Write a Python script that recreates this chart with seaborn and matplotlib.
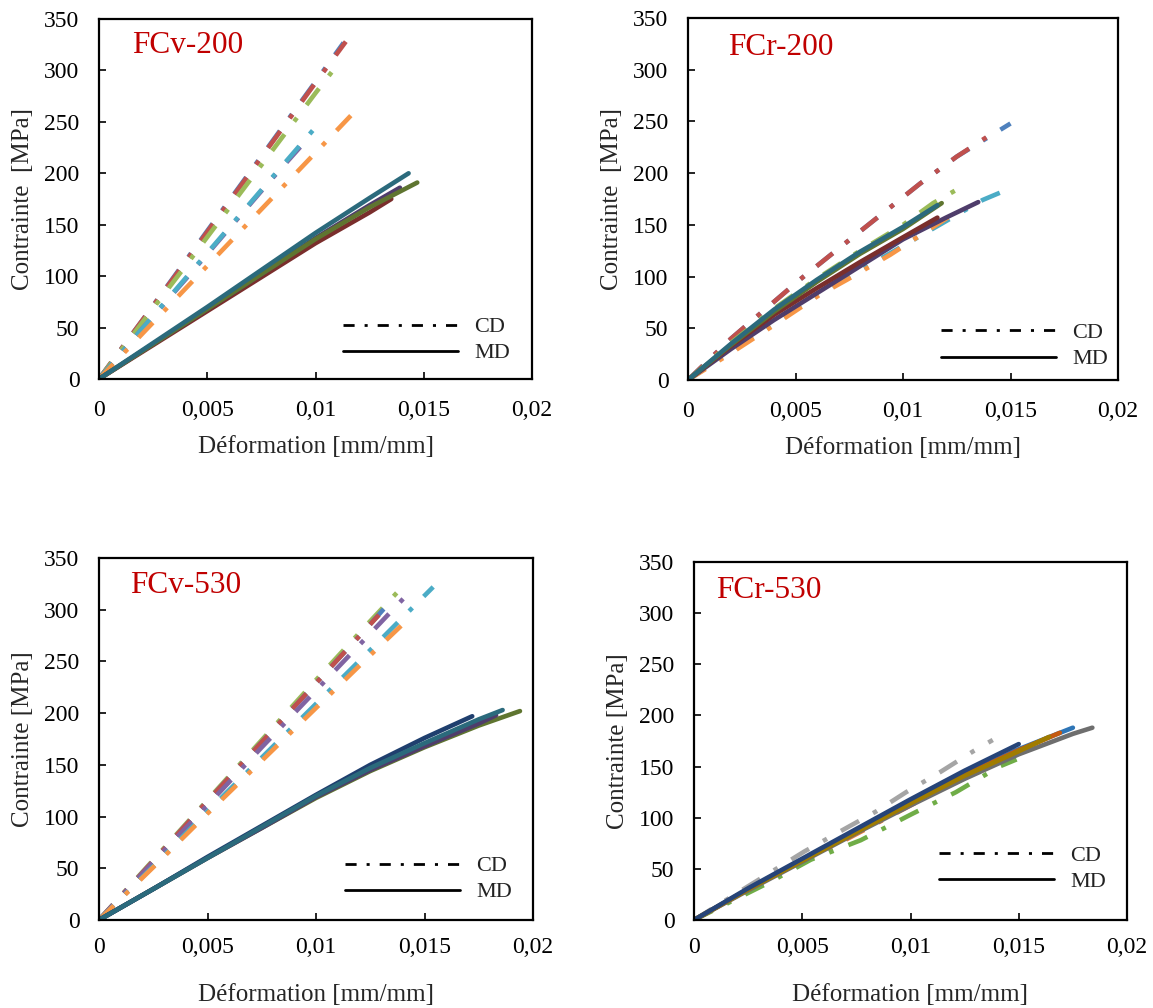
import numpy as np
import pandas as pd
import matplotlib
matplotlib.use("Agg")
import matplotlib.pyplot as plt
from matplotlib.lines import Line2D
from matplotlib.ticker import FixedLocator, FixedFormatter
import seaborn as sns

sns.set_style("ticks")
plt.rcParams['font.family'] = ['Liberation Serif', 'DejaVu Serif']

# ---------------- data ----------------
x_ticks = [0, 0.005, 0.01, 0.015, 0.02]
x_tick_labels = ["0", "0,005", "0,01", "0,015", "0,02"]
y_ticks = [0, 50, 100, 150, 200, 250, 300, 350]
panel_titles = ["FCv-200", "FCr-200", "FCv-530", "FCr-530"]
y_labels = ["Contrainte  [MPa]", "Contrainte  [MPa]", "Contrainte [MPa]", "Contrainte [MPa]"]
x_label = "Déformation [mm/mm]"
legend_labels = ["CD", "MD"]

# FCv-200 : (name, direction, strain, stress)
fcv200 = [
    ("cd1", "CD", [0, 0.002, 0.004, 0.006, 0.008, 0.010, 0.0113], [0, 57, 115, 173, 231, 289, 327]),
    ("cd2", "CD", [0, 0.002, 0.004, 0.006, 0.008, 0.010, 0.0114], [0, 57, 114, 172, 230, 288, 328]),
    ("cd3", "CD", [0, 0.002, 0.004, 0.006, 0.008, 0.010, 0.0111], [0, 55, 110, 166, 222, 278, 308]),
    ("cd4", "CD", [0, 0.002, 0.004, 0.006, 0.008, 0.0094], [0, 49, 97, 146, 195, 228]),
    ("cd5", "CD", [0, 0.002, 0.004, 0.006, 0.008, 0.0103], [0, 49, 98, 147, 196, 252]),
    ("cd6", "CD", [0, 0.002, 0.004, 0.006, 0.008, 0.010, 0.0119], [0, 44, 88, 132, 176, 220, 262]),
    ("md1", "MD", [0, 0.0025, 0.005, 0.0075, 0.010, 0.0125, 0.0135], [0, 33, 66, 99, 132, 162, 175]),
    ("md2", "MD", [0, 0.0025, 0.005, 0.0075, 0.010, 0.0125, 0.0139], [0, 34, 68, 102, 137, 169, 186]),
    ("md3", "MD", [0, 0.0025, 0.005, 0.0075, 0.010, 0.0125, 0.0147], [0, 34, 68, 102, 136, 167, 191]),
    ("md4", "MD", [0, 0.0025, 0.005, 0.0075, 0.010, 0.0125, 0.0143], [0, 35, 70, 106, 142, 176, 200]),
]
fcv200_colors = ["#4F81BD", "#C0504D", "#9BBB59", "#8064A2", "#4BACC6", "#F79646",
                 "#7A2E2C", "#4F3D6B", "#5F7530", "#2B6A7C"]

fcr200 = [
    ("cd1", "CD", [0, 0.002, 0.0052, 0.0079, 0.0108, 0.0125, 0.0150], [0, 40, 97, 142, 190, 216, 248]),
    ("cd2", "CD", [0, 0.002, 0.0052, 0.0079, 0.0108, 0.0125, 0.0142], [0, 40, 97, 142, 190, 216, 239]),
    ("cd3", "CD", [0, 0.002, 0.004, 0.006, 0.008, 0.010, 0.0114, 0.0130], [0, 36, 69, 98, 125, 150, 171, 190]),
    ("cd4", "CD", [0, 0.002, 0.0043, 0.0066, 0.0086, 0.0117, 0.0137, 0.0145], [0, 28, 59, 90, 113, 150, 174, 181]),
    ("cd5", "CD", [0, 0.002, 0.004, 0.0061, 0.0074, 0.0094, 0.0123], [0, 26, 53, 82, 97, 121, 160]),
    ("md1", "MD", [0, 0.002, 0.004, 0.006, 0.008, 0.010, 0.012, 0.0135], [0, 30, 58, 84, 110, 136, 157, 172]),
    ("md2", "MD", [0, 0.002, 0.004, 0.006, 0.008, 0.010, 0.0116], [0, 33, 63, 89, 114, 138, 157]),
    ("md3", "MD", [0, 0.002, 0.004, 0.006, 0.008, 0.010, 0.0118], [0, 34, 66, 95, 122, 146, 171]),
    ("md4", "MD", [0, 0.002, 0.004, 0.006, 0.008, 0.010, 0.0116], [0, 35, 68, 97, 124, 148, 169]),
]
fcr200_colors = ["#4F81BD", "#C0504D", "#9BBB59", "#4BACC6", "#F79646",
                 "#4F3D6B", "#7A2E2C", "#5F7530", "#2B6A7C"]

fcv530 = [
    ("cd1", "CD", [0, 0.0025, 0.005, 0.0075, 0.010, 0.0125, 0.0142], [0, 58, 116, 174, 232, 289, 327]),
    ("cd2", "CD", [0, 0.0025, 0.005, 0.0075, 0.010, 0.0125, 0.0136], [0, 57, 115, 172, 229, 286, 312]),
    ("cd3", "CD", [0, 0.0025, 0.005, 0.0075, 0.010, 0.0129], [0, 57, 115, 172, 229, 295]),
    ("cd4", "CD", [0, 0.0025, 0.005, 0.0075, 0.010, 0.0125, 0.0144], [0, 56, 111, 167, 222, 277, 319]),
    ("cd5", "CD", [0, 0.0025, 0.005, 0.0075, 0.010, 0.0125, 0.0154], [0, 52, 105, 157, 209, 261, 322]),
    ("cd6", "CD", [0, 0.0025, 0.005, 0.0075, 0.010, 0.0125, 0.0142], [0, 51, 103, 154, 205, 256, 290]),
    ("md1", "MD", [0, 0.0025, 0.005, 0.0075, 0.010, 0.0125, 0.015, 0.0175, 0.0194], [0, 30, 60, 89, 118, 144, 167, 188, 202]),
    ("md2", "MD", [0, 0.0025, 0.005, 0.0075, 0.010, 0.0125, 0.015, 0.0175, 0.0183], [0, 30, 60, 89, 119, 145, 168, 190, 198]),
    ("md3", "MD", [0, 0.0025, 0.005, 0.0075, 0.010, 0.0125, 0.015, 0.0172], [0, 30, 61, 91, 121, 150, 176, 197]),
    ("md4", "MD", [0, 0.0025, 0.005, 0.0075, 0.010, 0.0125, 0.015, 0.0175, 0.0186], [0, 30, 60, 90, 120, 147, 171, 194, 203]),
]
fcv530_colors = ["#9BBB59", "#4F81BD", "#C0504D", "#8064A2", "#4BACC6", "#F79646",
                 "#5F7530", "#4F3D6B", "#1F3F6E", "#2B6A7C"]

fcr530 = [
    ("cd1", "CD", [0, 0.0025, 0.005, 0.0075, 0.010, 0.0125, 0.0155], [0, 28, 56, 84, 112, 140, 175]),
    ("cd2", "CD", [0, 0.0025, 0.0051, 0.0067, 0.0084, 0.0098, 0.0114, 0.0129, 0.0138], [0, 33, 67, 86, 106, 125, 145, 165, 176]),
    ("cd3", "CD", [0, 0.0035, 0.0054, 0.0077, 0.0101, 0.0121, 0.0141, 0.0149], [0, 37, 59, 78, 104, 125, 150, 157]),
    ("md1", "MD", [0, 0.0025, 0.005, 0.0075, 0.010, 0.0125, 0.015, 0.0175, 0.0184], [0, 29, 57, 85, 112, 138, 162, 182, 188]),
    ("md2", "MD", [0, 0.0025, 0.005, 0.0075, 0.010, 0.0125, 0.015, 0.0175], [0, 30, 59, 87, 115, 142, 167, 188]),
    ("md3", "MD", [0, 0.0025, 0.005, 0.0075, 0.010, 0.0125, 0.015, 0.0169], [0, 30, 59, 87, 115, 142, 166, 183]),
    ("md4", "MD", [0, 0.0025, 0.005, 0.0075, 0.010, 0.0125, 0.015, 0.0164], [0, 30, 58, 86, 114, 141, 165, 179]),
    ("md5", "MD", [0, 0.0025, 0.005, 0.0075, 0.010, 0.0125, 0.0150], [0, 31, 60, 89, 118, 146, 172]),
]
fcr530_colors = ["#ED7D31", "#A5A5A5", "#70AD47",
                 "#6E6E6E", "#2E75B6", "#C55A11", "#A07C00", "#264478"]

panels = [(fcv200, fcv200_colors), (fcr200, fcr200_colors),
          (fcv530, fcv530_colors), (fcr530, fcr530_colors)]

# ---------------- layout ----------------
W, H = 1153, 1008
fig = plt.figure(figsize=(W / 100, H / 100), dpi=100)
boxes = [(99, 19, 532, 379), (688, 18, 1118, 380), (99, 558, 533, 920), (694, 562, 1127, 920)]
title_pos = [(0.077, 0.968), (0.093, 0.958), (0.072, 0.965), (0.051, 0.962)]
legend_anchor = [(0.5635, 0.108), (0.588, 0.094), (0.567, 0.113), (0.566, 0.143)]
xtick_pad = [15, 15, 12, 12]
xlabel_pad = [11, 11, 19, 19]

cd_dash = (4.5, 3.5, 1.0, 3.5)

for i, ((curves, colors), box) in enumerate(zip(panels, boxes)):
    l, t, r, b = box
    ax = fig.add_axes([l / W, 1 - b / H, (r - l) / W, (b - t) / H])
    rows = []
    for name, d, xs, ys in curves:
        for xv, yv in zip(xs, ys):
            rows.append({"strain": xv, "stress": yv, "curve": name, "dir": d})
    df = pd.DataFrame(rows)
    pal = {c[0]: col for c, col in zip(curves, colors)}
    sns.lineplot(data=df, x="strain", y="stress", hue="curve", style="dir",
                 palette=pal, dashes={"CD": cd_dash, "MD": ""}, sort=False,
                 estimator=None, legend=False, linewidth=3.3, ax=ax)
    ax.set_xlim(0, 0.02)
    ax.set_ylim(0, 350)
    ax.xaxis.set_major_locator(FixedLocator(x_ticks))
    ax.xaxis.set_major_formatter(FixedFormatter(x_tick_labels))
    ax.yaxis.set_major_locator(FixedLocator(y_ticks))
    ax.tick_params(axis="both", direction="in", length=5, width=1.2, labelsize=17,
                   top=False, right=False, colors="black")
    ax.tick_params(axis="y", pad=14)
    ax.tick_params(axis="x", pad=xtick_pad[i])
    for sp in ax.spines.values():
        sp.set_visible(True)
        sp.set_linewidth(1.6)
        sp.set_color("black")
    ax.set_xlabel(x_label, fontsize=18, labelpad=xlabel_pad[i])
    ax.set_ylabel(y_labels[i], fontsize=18, labelpad=7.5)
    ax.text(title_pos[i][0], title_pos[i][1], panel_titles[i], transform=ax.transAxes,
            fontsize=22.5, color="#C00000", va="top", ha="left")
    handles = [Line2D([0], [0], color="black", lw=2.0, dashes=(4, 3.6, 1.1, 3.6)),
               Line2D([0], [0], color="black", lw=2.0)]
    ax.legend(handles, legend_labels, loc="center left", frameon=False, fontsize=16,
              handlelength=5.18, handletextpad=0.72, labelspacing=0.25,
              borderpad=0, borderaxespad=0,
              bbox_to_anchor=legend_anchor[i], labelcolor="#222222")

fig.savefig("out.png", dpi=100)
